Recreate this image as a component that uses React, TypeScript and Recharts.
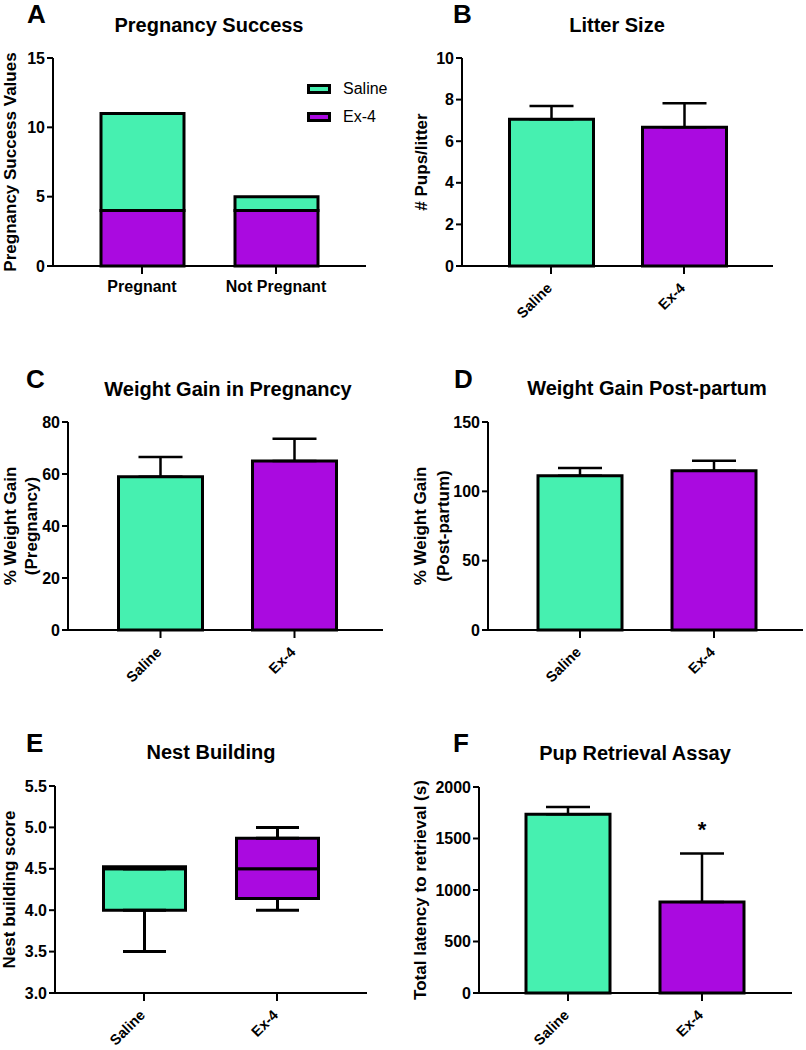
import React from 'react';
import { BarChart, Bar, XAxis, YAxis, Cell, ErrorBar, Legend, ReferenceDot } from 'recharts';

const FONT = "'Liberation Sans', Arial, Helvetica, sans-serif";
const SALINE_COLOR = '#46F0B0';
const EX4_COLOR = '#AA0AE0';

// shared groups
const groups = ['Saline', 'Ex-4'];
const groupColors = [SALINE_COLOR, EX4_COLOR];

// A: Pregnancy Success (stacked counts)
const pregCategories = ['Pregnant', 'Not Pregnant'];
const pregSaline = [7, 1];
const pregEx4 = [4, 4];
const pregTicks = [0, 5, 10, 15];

// B: Litter Size
const litterMean = [7.05, 6.67];
const litterSem = [0.64, 1.15];
const litterTicks = [0, 2, 4, 6, 8, 10];

// C: Weight Gain in Pregnancy
const wgPregMean = [58.9, 65.0];
const wgPregSem = [7.6, 8.6];
const wgPregTicks = [0, 20, 40, 60, 80];

// D: Weight Gain Post-partum
const wgPostMean = [111.3, 114.9];
const wgPostSem = [5.5, 7.2];
const wgPostTicks = [0, 50, 100, 150];

// E: Nest Building (box plot)
const nestMin = [3.5, 4.0];
const nestQ1 = [4.0, 4.14];
const nestMedian = [4.5, 4.5];
const nestQ3 = [4.5, 4.87];
const nestMax = [4.5, 5.0];
const nestTicks = [3.0, 3.5, 4.0, 4.5, 5.0, 5.5];

// F: Pup Retrieval Assay
const latencyMean = [1735, 884];
const latencySem = [71, 471];
const latencyTicks = [0, 500, 1000, 1500, 2000];
const latencySigGroup = 'Ex-4';
const latencySigLevel = 1590;

const axisStyle = { stroke: '#000', strokeWidth: 2 };
const yTickStyle = { fill: '#000', fontSize: 16, fontWeight: 700, fontFamily: FONT };

const yTitle = (lines: string[], xs: number[]) => (props: any) => {
  const vb = props.viewBox || {};
  const cy = (vb.y ?? 0) + (vb.height ?? 0) / 2;
  return (
    <g>
      {lines.map((l, i) => (
        <text
          key={i}
          x={xs[i]}
          y={cy}
          transform={`rotate(-90, ${xs[i]}, ${cy})`}
          textAnchor="middle"
          dominantBaseline="central"
          fontFamily={FONT}
          fontWeight={700}
          fontSize={17}
          fill="#000"
        >
          {l}
        </text>
      ))}
    </g>
  );
};

const RotTick = (props: any) => {
  const { x, y, payload } = props;
  return (
    <g transform={`translate(${x + 2},${y + 13})`}>
      <text x={0} y={0} textAnchor="end" transform="rotate(-45)" fontFamily={FONT} fontWeight={700} fontSize={14.5} fill="#000">
        {payload.value}
      </text>
    </g>
  );
};

const FlatTick = (props: any) => {
  const { x, y, payload } = props;
  return (
    <text x={x} y={y + 16} textAnchor="middle" fontFamily={FONT} fontWeight={700} fontSize={16} fill="#000">
      {payload.value}
    </text>
  );
};

type MeanPanelProps = {
  left: number; top: number; w: number; h: number;
  m: { top: number; right: number; bottom: number; left: number };
  yw: number; xh: number; pad: { left: number; right: number };
  domain: [number, number]; ticks: number[];
  means: number[]; sems: number[];
  titleLines: string[]; titleXs: number[];
  children?: React.ReactNode;
};

function MeanPanel(p: MeanPanelProps) {
  const data = groups.map((g, i) => ({ group: g, mean: p.means[i], err: [0, p.sems[i]] }));
  return (
    <div style={{ position: 'absolute', left: p.left, top: p.top }}>
      <BarChart width={p.w} height={p.h} data={data} margin={p.m}>
        <XAxis dataKey="group" padding={p.pad} height={p.xh} tick={<RotTick />} tickLine={axisStyle} axisLine={axisStyle} tickSize={8} interval={0} />
        <YAxis
          width={p.yw}
          domain={p.domain}
          ticks={p.ticks}
          type="number"
          tick={yTickStyle}
          tickLine={axisStyle}
          axisLine={axisStyle}
          tickSize={6}
          tickMargin={2}
          interval={0}
          label={yTitle(p.titleLines, p.titleXs)}
        />
        <Bar dataKey="mean" barSize={84} stroke="#000" strokeWidth={3} isAnimationActive={false}>
          {data.map((d, i) => (
            <Cell key={d.group} fill={groupColors[i]} />
          ))}
          <ErrorBar dataKey="err" width={22} stroke="#000" strokeWidth={2.5} direction="y" />
        </Bar>
        {p.children}
      </BarChart>
    </div>
  );
}

function PanelA() {
  const data = pregCategories.map((c, i) => ({ cat: c, Saline: pregSaline[i], 'Ex-4': pregEx4[i] }));
  return (
    <div style={{ position: 'absolute', left: 0, top: 0 }}>
      <BarChart width={400} height={310} data={data} margin={{ top: 58, right: 34, bottom: 4, left: 0 }}>
        <XAxis dataKey="cat" padding={{ left: 22, right: 23 }} height={40} tick={<FlatTick />} tickLine={axisStyle} axisLine={axisStyle} tickSize={8} interval={0} />
        <YAxis
          width={53}
          domain={[0, 15]}
          ticks={pregTicks}
          type="number"
          tick={yTickStyle}
          tickLine={axisStyle}
          axisLine={axisStyle}
          tickSize={6}
          tickMargin={2}
          interval={0}
          label={yTitle(['Pregnancy Success Values'], [10])}
        />
        <Legend
          layout="vertical"
          align="center"
          verticalAlign="middle"
          wrapperStyle={{ left: 307, top: 75, width: 'auto' }}
          content={() => (
            <div style={{ fontFamily: FONT, fontSize: 16, color: '#000' }}>
              {groups.map((g, i) => (
                <div key={g} style={{ display: 'flex', alignItems: 'center', height: 28 }}>
                  <span style={{ display: 'inline-block', width: 18, height: 4, background: groupColors[i], border: '3px solid #000', marginRight: 12 }} />
                  <span>{g}</span>
                </div>
              ))}
            </div>
          )}
        />
        <Bar dataKey="Ex-4" stackId="s" fill={EX4_COLOR} stroke="#000" strokeWidth={3} barSize={83} isAnimationActive={false} />
        <Bar dataKey="Saline" stackId="s" fill={SALINE_COLOR} stroke="#000" strokeWidth={3} barSize={83} isAnimationActive={false} />
      </BarChart>
    </div>
  );
}

function PanelE() {
  const data = groups.map((g, i) => ({
    group: g,
    base: nestQ1[i],
    lower: nestMedian[i] - nestQ1[i],
    upper: nestQ3[i] - nestMedian[i],
    lowWhisker: [nestQ1[i] - nestMin[i], 0],
    highWhisker: [0, nestMax[i] - nestQ3[i]],
  }));
  return (
    <div style={{ position: 'absolute', left: 0, top: 690 }}>
      <BarChart width={400} height={360} data={data} margin={{ top: 96, right: 33, bottom: 4, left: 0 }}>
        <XAxis dataKey="group" padding={{ left: 22.5, right: 23.5 }} height={53} tick={<RotTick />} tickLine={axisStyle} axisLine={axisStyle} tickSize={8} interval={0} />
        <YAxis
          width={55}
          domain={[3, 5.5]}
          allowDataOverflow
          ticks={nestTicks}
          type="number"
          tickFormatter={(v: number) => v.toFixed(1)}
          tick={yTickStyle}
          tickLine={axisStyle}
          axisLine={axisStyle}
          tickSize={6}
          tickMargin={2}
          interval={0}
          label={yTitle(['Nest building score'], [9])}
        />
        <Bar dataKey="base" stackId="box" fill="none" stroke="none" barSize={82} isAnimationActive={false}>
          <ErrorBar dataKey="lowWhisker" width={21.5} stroke="#000" strokeWidth={3} direction="y" />
        </Bar>
        <Bar dataKey="lower" stackId="box" stroke="#000" strokeWidth={3} barSize={82} isAnimationActive={false}>
          {data.map((d, i) => (
            <Cell key={d.group} fill={groupColors[i]} />
          ))}
        </Bar>
        <Bar dataKey="upper" stackId="box" stroke="#000" strokeWidth={3} barSize={82} minPointSize={2} isAnimationActive={false}>
          {data.map((d, i) => (
            <Cell key={d.group} fill={groupColors[i]} />
          ))}
          <ErrorBar dataKey="highWhisker" width={21.5} stroke="#000" strokeWidth={3} direction="y" />
        </Bar>
      </BarChart>
    </div>
  );
}

const titles = [
  { text: 'Pregnancy Success', x: 209, y: 32 },
  { text: 'Litter Size', x: 617, y: 32 },
  { text: 'Weight Gain in Pregnancy', x: 228, y: 396 },
  { text: 'Weight Gain Post-partum', x: 647, y: 395 },
  { text: 'Nest Building', x: 211, y: 759 },
  { text: 'Pup Retrieval Assay', x: 635, y: 760 },
];

const letters = [
  { text: 'A', x: 27, y: 23 },
  { text: 'B', x: 453, y: 23 },
  { text: 'C', x: 26, y: 388 },
  { text: 'D', x: 454, y: 388 },
  { text: 'E', x: 26, y: 752 },
  { text: 'F', x: 453, y: 752 },
];

export default function App() {
  return (
    <div style={{ position: 'absolute', left: 0, top: 0, width: 806, height: 1050, background: '#fff', overflow: 'hidden' }}>
      <PanelA />
      <MeanPanel
        left={400} top={0} w={406} h={330}
        m={{ top: 58, right: 33, bottom: 4, left: 0 }}
        yw={62} xh={60} pad={{ left: 22.5, right: 22.5 }}
        domain={[0, 10]} ticks={litterTicks}
        means={litterMean} sems={litterSem}
        titleLines={['# Pups/litter']} titleXs={[21]}
      />
      <MeanPanel
        left={0} top={340} w={400} h={350}
        m={{ top: 82, right: 17, bottom: 4, left: 0 }}
        yw={68} xh={56} pad={{ left: 25.5, right: 21.5 }}
        domain={[0, 80]} ticks={wgPregTicks}
        means={wgPregMean} sems={wgPregSem}
        titleLines={['% Weight Gain', '(Pregnancy)']} titleXs={[10, 31]}
      />
      <MeanPanel
        left={400} top={340} w={406} h={350}
        m={{ top: 82, right: 3, bottom: 4, left: 0 }}
        yw={88} xh={56} pad={{ left: 25, right: 22 }}
        domain={[0, 150]} ticks={wgPostTicks}
        means={wgPostMean} sems={wgPostSem}
        titleLines={['% Weight Gain', '(Post-partum)']} titleXs={[20, 43]}
      />
      <PanelE />
      <MeanPanel
        left={400} top={690} w={406} h={360}
        m={{ top: 97, right: 14, bottom: 4, left: 0 }}
        yw={79} xh={53} pad={{ left: 22, right: 23 }}
        domain={[0, 2000]} ticks={latencyTicks}
        means={latencyMean} sems={latencySem}
        titleLines={['Total latency to retrieval (s)']} titleXs={[20]}
      >
        <ReferenceDot
          x={latencySigGroup}
          y={latencySigLevel}
          r={0}
          fill="none"
          stroke="none"
          label={{ value: '*', position: 'center', fill: '#000', fontSize: 22, fontWeight: 700, fontFamily: FONT }}
        />
      </MeanPanel>
      <svg width={806} height={1050} style={{ position: 'absolute', left: 0, top: 0, pointerEvents: 'none' }}>
        {titles.map((t) => (
          <text key={t.text} x={t.x} y={t.y} textAnchor="middle" fontFamily={FONT} fontWeight={700} fontSize={20} fill="#000">
            {t.text}
          </text>
        ))}
        {letters.map((t) => (
          <text key={t.text} x={t.x} y={t.y} fontFamily={FONT} fontWeight={700} fontSize={26} fill="#000">
            {t.text}
          </text>
        ))}
      </svg>
    </div>
  );
}
